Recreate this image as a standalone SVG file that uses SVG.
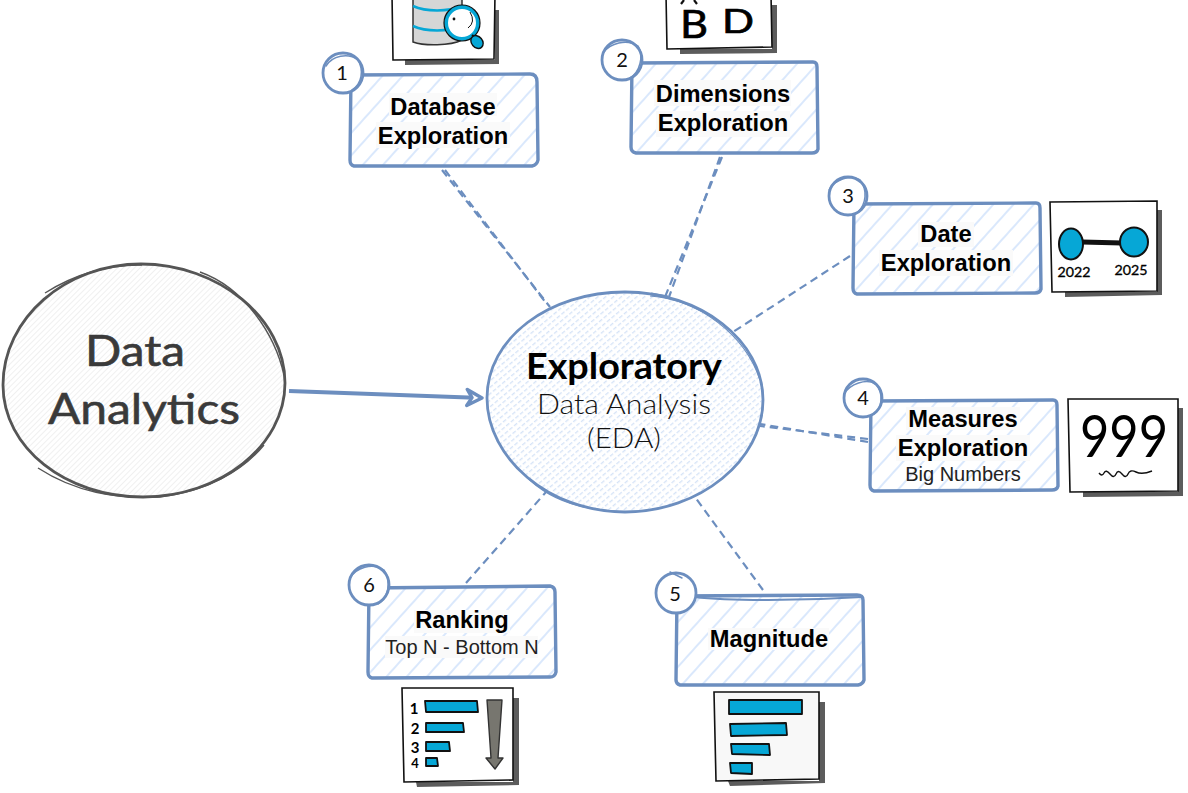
<svg xmlns="http://www.w3.org/2000/svg" width="1188" height="793" viewBox="0 0 1188 793">
<style>
.box{fill:url(#hb);stroke:#6c8ebf;stroke-width:3.4;stroke-linejoin:round;stroke-linecap:round}
.badge{fill:#fff;stroke:#6c8ebf;stroke-width:2.8;stroke-linecap:round}
.badge2{fill:none;stroke:#6c8ebf;stroke-width:1.5;stroke-linecap:round}
.bt{font-family:"Liberation Sans",Arial,sans-serif;font-weight:700;font-size:23.7px;fill:#000;text-anchor:middle}
.st{font-family:"Liberation Sans",Arial,sans-serif;font-size:20px;fill:#222;text-anchor:middle}
.tbg{fill:#fafafa}
.num{font-family:"Lato","Noto Sans",sans-serif;font-size:20px;fill:#111;text-anchor:middle;font-weight:400}
.hand{font-family:"Lato","Noto Sans",sans-serif;text-anchor:middle}
.ink{font-family:"Lato","Noto Sans",sans-serif;fill:#000;text-anchor:middle;font-weight:700}
.dash{fill:none;stroke:#6c8ebf;stroke-width:2.2;stroke-dasharray:8 5}
.frame{fill:#fff;stroke:#111;stroke-width:1.6}
.shadow{fill:#5c5c5c}
.bar{fill:#06a7d6;stroke:#111;stroke-width:1.8;stroke-linejoin:round}
</style>
<defs>
<pattern id="hb" width="15" height="15" patternUnits="userSpaceOnUse" patternTransform="rotate(-48)"><rect width="15" height="15" fill="#fff"/><rect width="15" height="2" y="4" fill="#dae8fc"/></pattern>
<pattern id="he" width="6" height="5" patternUnits="userSpaceOnUse" patternTransform="rotate(-40)"><rect width="6" height="5" fill="#fff"/><rect width="4" height="1.3" y="1" fill="#d5e3f7"/></pattern>
<pattern id="hg" width="4" height="4" patternUnits="userSpaceOnUse" patternTransform="rotate(-45)"><rect width="4" height="4" fill="#fff"/><rect width="4" height="1" fill="#f0f0f0"/></pattern>
<marker id="ah" markerUnits="userSpaceOnUse" markerWidth="22" markerHeight="22" refX="17" refY="10" orient="auto"><path d="M2 2L17 10L2 18L7 10Z" fill="#fff" stroke="#6c8ebf" stroke-width="3.4" stroke-linejoin="round"/></marker>
</defs>
<rect width="1188" height="793" fill="#fff"/>

<g id="connectors">
<path class="dash" d="M442 170L550 307"/>
<path class="dash" d="M445 170L546 303"/>
<path class="dash" d="M722 157L665 297"/>
<path class="dash" d="M720 157L669 297"/>
<path class="dash" d="M850 256L733 332"/>
<path class="dash" d="M868 442L760 424"/>
<path class="dash" d="M868 439L760 426"/>
<path class="dash" d="M763 590L695 497"/>
<path class="dash" d="M466 583L546 492"/>
<path d="M289 391L482 398" fill="none" stroke="#6c8ebf" stroke-width="3.8" marker-end="url(#ah)"/>
</g>

<g id="node-data-analytics">
<path d="M3 385C3 318 66 264 141 264C218 264 285 318 285 383C285 446 220 497 143 497C66 497 3 448 3 385Z" fill="url(#hg)" stroke="#555" stroke-width="2.8"/>
<path d="M45 293C75 274 110 264 142 265M200 272C245 288 275 335 284 375M38 468C75 492 115 499 160 497C205 492 242 472 264 445" fill="none" stroke="#555" stroke-width="1.4"/>
<text class="hand" x="135" y="366" font-size="42" fill="#3a3a3a" stroke="#3a3a3a" stroke-width=".6" textLength="100" lengthAdjust="spacingAndGlyphs">Data</text>
<text class="hand" x="144" y="424" font-size="42" fill="#3a3a3a" stroke="#3a3a3a" stroke-width=".6" textLength="192" lengthAdjust="spacingAndGlyphs">Analytics</text>
</g>

<g id="node-eda">
<path d="M487 398C487 338 549 292 625 292C700 292 763 340 763 400C763 460 700 512 625 512C549 512 487 458 487 398Z" fill="url(#he)" stroke="#6c8ebf" stroke-width="2.8"/>
<path d="M650 296C700 300 745 335 760 380M520 470C550 505 590 510 625 512" fill="none" stroke="#6c8ebf" stroke-width="1.2"/>
<path d="M651 294L668 297" stroke="#6c8ebf" stroke-width="3"/>
<text class="ink" x="624" y="379" font-size="36" textLength="196" lengthAdjust="spacingAndGlyphs">Exploratory</text>
<text class="hand" x="624" y="414" font-size="27" fill="#111" font-weight="300" textLength="174" lengthAdjust="spacingAndGlyphs">Data Analysis</text>
<text class="hand" x="624" y="448" font-size="27" fill="#111" font-weight="300" textLength="74" lengthAdjust="spacingAndGlyphs">(EDA)</text>
</g>

<g id="icon-database">
<path class="shadow" d="M405 60H495V10H499V64L405 65Z"/>
<path class="frame" d="M392 -6L393 60L494 59L495 -6Z"/>
<path d="M413 -4H462V40C450 46 424 46 413 42Z" fill="#d6d6d6" stroke="#333" stroke-width="1.5"/>
<path d="M413 6C426 12 448 12 462 6M413 26C426 32 448 32 462 26" fill="none" stroke="#06a7d6" stroke-width="2.6"/>
<circle cx="462" cy="23" r="16" fill="#fff" stroke="#06a7d6" stroke-width="4"/>
<circle cx="462" cy="23" r="18" fill="none" stroke="#111" stroke-width="1.2"/>
<path d="M470 12Q476 22 468 28" fill="none" stroke="#111" stroke-width="1"/>
<circle cx="454" cy="19" r="1.4" fill="#111"/>
<path d="M472 35L476 38" stroke="#111" stroke-width="2"/>
<ellipse cx="477" cy="42" rx="5.5" ry="7" transform="rotate(-40 477 42)" fill="#06a7d6" stroke="#111" stroke-width="1.4"/>
</g>

<g id="node-database">
<path class="box" d="M351 75L530 74Q537 74 537 82L538 160Q537 165 532 166L354 166Q350 165 350 160Z"/>
<rect class="tbg" x="389" y="93" width="108" height="23"/>
<rect class="tbg" x="376" y="122" width="134" height="26"/>
<text class="bt" x="443" y="115">Database</text>
<text class="bt" x="443" y="144">Exploration</text>
<circle class="badge" cx="343" cy="73" r="20"/>
<path class="badge2" d="M326 66C332 56 348 52 358 60C364 70 362 84 352 90"/>
<text class="num" x="342" y="80">1</text>
</g>

<g id="icon-dimensions">
<path class="shadow" d="M680 49H772V5H777V53L680 54Z"/>
<path class="frame" d="M666 -6L667 49L772 47L771 -6Z"/>
<path d="M681 4L684 0M694 0L697 4" stroke="#111" stroke-width="2.2" fill="none"/>
<text class="hand" x="694" y="38" font-size="38" fill="#000" stroke="#000" stroke-width=".7" textLength="28" lengthAdjust="spacingAndGlyphs">B</text>
<text class="hand" x="738" y="33" font-size="33" fill="#000" stroke="#000" stroke-width=".7" textLength="32" lengthAdjust="spacingAndGlyphs">D</text>
</g>

<g id="node-dimensions">
<path class="box" d="M632 63L813 62Q817 62 817 67L818 149Q817 153 812 153L636 153Q631 152 631 147Z"/>
<rect class="tbg" x="654" y="80" width="137" height="26"/>
<rect class="tbg" x="656" y="111" width="134" height="26"/>
<text class="bt" x="723" y="102">Dimensions</text>
<text class="bt" x="723" y="131">Exploration</text>
<circle class="badge" cx="622" cy="60" r="20"/>
<path class="badge2" d="M604 52C610 44 626 38 638 46C644 56 640 72 630 78"/>
<text class="num" x="622" y="67">2</text>
</g>

<g id="node-date">
<path class="box" d="M854 204L1036 203Q1040 203 1040 208L1041 289Q1040 293 1035 293L857 294Q853 293 853 288Z"/>
<rect class="tbg" x="918" y="222" width="56" height="25"/>
<rect class="tbg" x="879" y="250" width="134" height="26"/>
<text class="bt" x="946" y="242">Date</text>
<text class="bt" x="946" y="271">Exploration</text>
<circle class="badge" cx="848" cy="196" r="19"/>
<path class="badge2" d="M829 190C834 180 850 174 860 180C868 190 866 204 858 212"/>
<text class="num" x="848" y="203">3</text>
</g>

<g id="icon-date">
<path class="shadow" d="M1065 292H1157V210H1162V295L1065 297Z"/>
<path class="frame" d="M1050 202L1157 201L1157 291L1052 292Z"/>
<path d="M1082 242L1122 243" stroke="#111" stroke-width="5"/>
<ellipse cx="1071" cy="244" rx="12" ry="15.5" fill="#06a7d6" stroke="#111" stroke-width="2"/>
<ellipse cx="1134" cy="242" rx="14" ry="14.5" fill="#06a7d6" stroke="#111" stroke-width="2"/>
<text class="hand" x="1074" y="277" font-size="14" fill="#000" stroke="#000" stroke-width=".3" textLength="33" lengthAdjust="spacingAndGlyphs">2022</text>
<text class="hand" x="1131" y="275" font-size="14" fill="#000" stroke="#000" stroke-width=".3" textLength="33" lengthAdjust="spacingAndGlyphs">2025</text>
</g>

<g id="node-measures">
<path class="box" d="M871 401L1053 400Q1057 400 1057 405L1058 486Q1057 490 1052 490L874 491Q870 490 870 485Z"/>
<rect class="tbg" x="906" y="407" width="114" height="23"/>
<rect class="tbg" x="896" y="435" width="134" height="26"/>
<text class="bt" x="963" y="427">Measures</text>
<text class="bt" x="963" y="456">Exploration</text>
<text class="st" x="963" y="481">Big Numbers</text>
<circle class="badge" cx="863" cy="398" r="19"/>
<path class="badge2" d="M844 394C850 384 866 378 876 384C884 394 882 408 874 414"/>
<text class="num" x="863" y="405">4</text>
</g>

<g id="icon-measures">
<path class="shadow" d="M1083 492H1178V408H1183V496L1083 497Z"/>
<path class="frame" d="M1068 399H1178L1178 491L1070 492Z"/>
<text class="hand" x="1124" y="457" font-size="58" fill="#000" font-weight="400" textLength="88" lengthAdjust="spacingAndGlyphs">999</text>
<path d="M1099 473Q1102 477 1104 473T1110 474T1116 474T1122 474T1128 474T1136 472T1152 471" fill="none" stroke="#111" stroke-width="1.4"/>
</g>

<g id="node-magnitude">
<path class="box" d="M677 596L857 595Q863 595 863 600L864 680Q863 684 858 685L680 685Q676 684 676 680Z"/>
<path d="M694 597C730 601 800 601 862 597" fill="none" stroke="#6c8ebf" stroke-width="2"/>
<rect class="tbg" x="708" y="628" width="121" height="22"/>
<text class="bt" x="769" y="647">Magnitude</text>
<circle class="badge" cx="676" cy="593" r="20"/>
<path class="badge2" d="M670 572L682 578"/>
<text class="num" x="675" y="601">5</text>
</g>

<g id="icon-magnitude">
<path class="shadow" d="M728 781H819V702H825V783L730 786Z"/>
<path class="frame" d="M714 692H819L819 779L716 781Z" style="fill:#f8f8f8"/>
<path class="bar" d="M729 700H802L802 714L729 714Z"/>
<path class="bar" d="M730 724L786 723L787 735L731 736Z"/>
<path class="bar" d="M731 744L769 744L770 755L732 754Z"/>
<path class="bar" d="M730 763L752 763L752 774L731 773Z"/>
</g>

<g id="node-ranking">
<path class="box" d="M369 588L550 586Q555 587 555 592L556 672Q555 677 550 677L372 678Q368 677 368 672Z"/>
<rect class="tbg" x="414" y="610" width="96" height="23"/>
<rect class="tbg" x="385" y="636" width="153" height="22"/>
<text class="bt" x="462" y="628">Ranking</text>
<text class="st" x="462" y="654">Top N - Bottom N</text>
<circle class="badge" cx="369" cy="585" r="20"/>
<path class="badge2" d="M350 578C356 568 372 562 384 570C392 582 388 598 378 604"/>
<text class="num" x="369" y="592">6</text>
</g>

<g id="icon-ranking">
<path class="shadow" d="M416 782H513V698H519V785L417 787Z"/>
<path class="frame" d="M402 688L513 688L513 780L404 782Z"/>
<path class="bar" d="M425 701L477 701L478 712L426 712Z"/>
<path class="bar" d="M426 723L463 723L464 732L426 732Z"/>
<path class="bar" d="M426 742L449 742L450 751L426 751Z"/>
<path class="bar" d="M426 758L437 758L438 766L426 766Z"/>
<path d="M487 700H502L498 758H503L495 769L486 758H491Z" fill="#77766f" stroke="#333" stroke-width="1.4" stroke-linejoin="round"/>
<text class="ink" x="414" y="714" font-size="15">1</text>
<text class="ink" x="415" y="734" font-size="15">2</text>
<text class="ink" x="415" y="753" font-size="15">3</text>
<text class="ink" x="415" y="768" font-size="13">4</text>
</g>
</svg>
